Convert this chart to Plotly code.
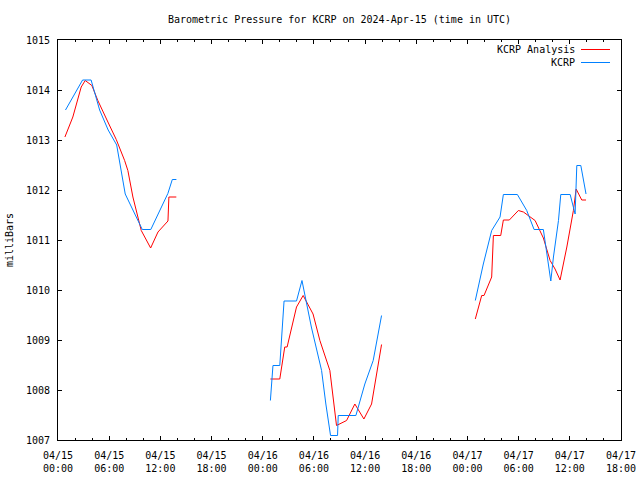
import pandas as pd
import plotly.graph_objects as go

# ---- data (hours since 2024-04-15 00:00 UTC, pressure in mbar) ----
base_time = "2024-04-15 00:00"

analysis_hours = [0.81, 1.74, 2.72, 3.19, 3.97, 4.67, 5.85, 6.83, 7.81, 8.19, 8.78, 9.76,
                  10.86, 11.72, 12.89, 13.0, 13.87, None,
                  24.9, 26.0, 26.58, 26.86, 27.96, 28.74, 29.9, 30.7, 31.87, 32.65, 33.83,
                  34.8, 35.86, 36.76, 37.93, None,
                  48.92, 49.67, 49.94, 50.84, 51.04, 51.9, 52.21, 52.91, 53.97, 54.56, 55.93,
                  56.9, 57.69, 58.27, 58.86, 59.65, 60.42, 60.74, 61.4, 61.9]
analysis_mb = [1013.06, 1013.46, 1014.06, 1014.19, 1014.09, 1013.79, 1013.36, 1013.01, 1012.59,
               1012.39, 1011.86, 1011.19, 1010.84, 1011.16, 1011.38, 1011.86, 1011.86, None,
               1008.22, 1008.22, 1008.86, 1008.86, 1009.66, 1009.89, 1009.52, 1008.99, 1008.39,
               1007.29, 1007.39, 1007.72, 1007.42, 1007.72, 1008.91, None,
               1009.42, 1009.89, 1009.89, 1010.26, 1011.09, 1011.09, 1011.40, 1011.40, 1011.59,
               1011.56, 1011.39, 1011.04, 1010.59, 1010.42, 1010.20, 1010.86, 1011.59, 1012.02,
               1011.80, 1011.80]

obs_hours = [0.88, 1.88, 2.88, 3.88, 4.88, 5.88, 6.88, 7.88, 8.88, 9.88, 10.88, 11.88, 12.88,
             13.4, 13.88, None,
             24.9, 25.2, 26.0, 26.5, 27.96, 28.6, 29.7, 30.9, 31.4, 31.95, 32.77, 32.85, 34.92,
             35.97, 36.95, 37.93, None,
             48.92, 49.86, 50.84, 51.82, 52.21, 53.85, 54.95, 55.81, 56.9, 57.37, 57.77, 58.08,
             58.67, 58.94, 60.04, 60.62, 60.82, 61.29, 61.9]
obs_mb = [1013.6, 1013.9, 1014.2, 1014.2, 1013.6, 1013.2, 1012.9, 1011.92, 1011.56, 1011.21,
          1011.21, 1011.56, 1011.93, 1012.21, 1012.21, None,
          1007.79, 1008.49, 1008.49, 1009.78, 1009.78, 1010.19, 1009.26, 1008.39, 1007.72,
          1007.09, 1007.09, 1007.49, 1007.49, 1008.12, 1008.59, 1009.49, None,
          1009.79, 1010.52, 1011.19, 1011.46, 1011.91, 1011.91, 1011.59, 1011.21, 1011.21,
          1010.66, 1010.18, 1010.66, 1011.39, 1011.91, 1011.91, 1011.52, 1012.49, 1012.49,
          1011.92]

series_names = ["KCRP Analysis", "KCRP"]
series_colors = ["#ff0000", "#0080ff"]
y_ticks = [1007, 1008, 1009, 1010, 1011, 1012, 1013, 1014, 1015]
title_text = "Barometric Pressure for KCRP on 2024-Apr-15 (time in UTC)"
y_title = "milliBars"


def to_times(hours):
    t0 = pd.Timestamp(base_time)
    return [None if h is None else t0 + pd.Timedelta(hours=h) for h in hours]


FONT = "DejaVu Sans Mono"

fig = go.Figure()
fig.add_trace(go.Scatter(x=to_times(analysis_hours), y=analysis_mb, mode="lines",
                         name=series_names[0], line=dict(color=series_colors[0], width=1),
                         connectgaps=False))
fig.add_trace(go.Scatter(x=to_times(obs_hours), y=obs_mb, mode="lines",
                         name=series_names[1], line=dict(color=series_colors[1], width=1),
                         connectgaps=False))

L, R, T, B = 58, 19, 40, 40
fig.update_layout(
    width=640, height=480,
    margin=dict(l=L, r=R, t=T, b=B, pad=0, autoexpand=False),
    paper_bgcolor="white", plot_bgcolor="white",
    showlegend=False,
    font=dict(family=FONT, size=10, color="black"),
    title=dict(text=title_text, x=(L + (640 - R)) / 2 / 640, xanchor="center",
               y=1 - 19 / 480, yanchor="middle", font=dict(family=FONT, size=10)),
)

fig.update_xaxes(
    type="date", automargin=False,
    range=[pd.Timestamp("2024-04-15 00:00"), pd.Timestamp("2024-04-17 18:00")],
    dtick=6 * 3600 * 1000, tick0="2024-04-15 00:00",
    tickformat="%m/%d<br>%H:%M",
    ticks="inside", ticklen=4, tickcolor="black", tickwidth=1,
    minor=dict(dtick=2 * 3600 * 1000, ticks="inside", ticklen=2, tickcolor="black"),
    showgrid=False, zeroline=False,
    showline=True, linecolor="black", linewidth=1, mirror="ticks",
    tickfont=dict(family=FONT, size=10),
    ticklabelstandoff=6,
)
fig.update_yaxes(
    automargin=False,
    range=[1007, 1015], tickvals=y_ticks, ticktext=[str(v) for v in y_ticks],
    ticks="inside", ticklen=4, tickcolor="black", tickwidth=1,
    showgrid=False, zeroline=False,
    showline=True, linecolor="black", linewidth=1, mirror="ticks",
    tickfont=dict(family=FONT, size=10),
    ticklabelstandoff=5,
    title=dict(text=y_title, font=dict(family=FONT, size=10), standoff=10),
)

# gnuplot-style key (text right-aligned, sample line to the right)
pw, ph = 640 - L - R, 480 - T - B
text_right = (577 - L) / pw
line_x0, line_x1 = (581 - L) / pw, (610 - L) / pw
key_y = [(440 - 49.5) / ph, (440 - 62.5) / ph]
for name, color, ky in zip(series_names, series_colors, key_y):
    fig.add_annotation(xref="paper", yref="paper", x=text_right, y=ky, text=name,
                       showarrow=False, xanchor="right", yanchor="middle",
                       font=dict(family=FONT, size=10, color="black"))
    fig.add_shape(type="line", xref="paper", yref="paper", x0=line_x0, x1=line_x1,
                  y0=ky, y1=ky, line=dict(color=color, width=1))

fig.write_html("out.html", config={"displayModeBar": False})

# remove the default page margin so the figure sits at the window's origin
with open("out.html", "r", encoding="utf-8") as f:
    html = f.read()
html = html.replace("<body>", '<body style="margin:0;padding:0;">', 1)
with open("out.html", "w", encoding="utf-8") as f:
    f.write(html)
